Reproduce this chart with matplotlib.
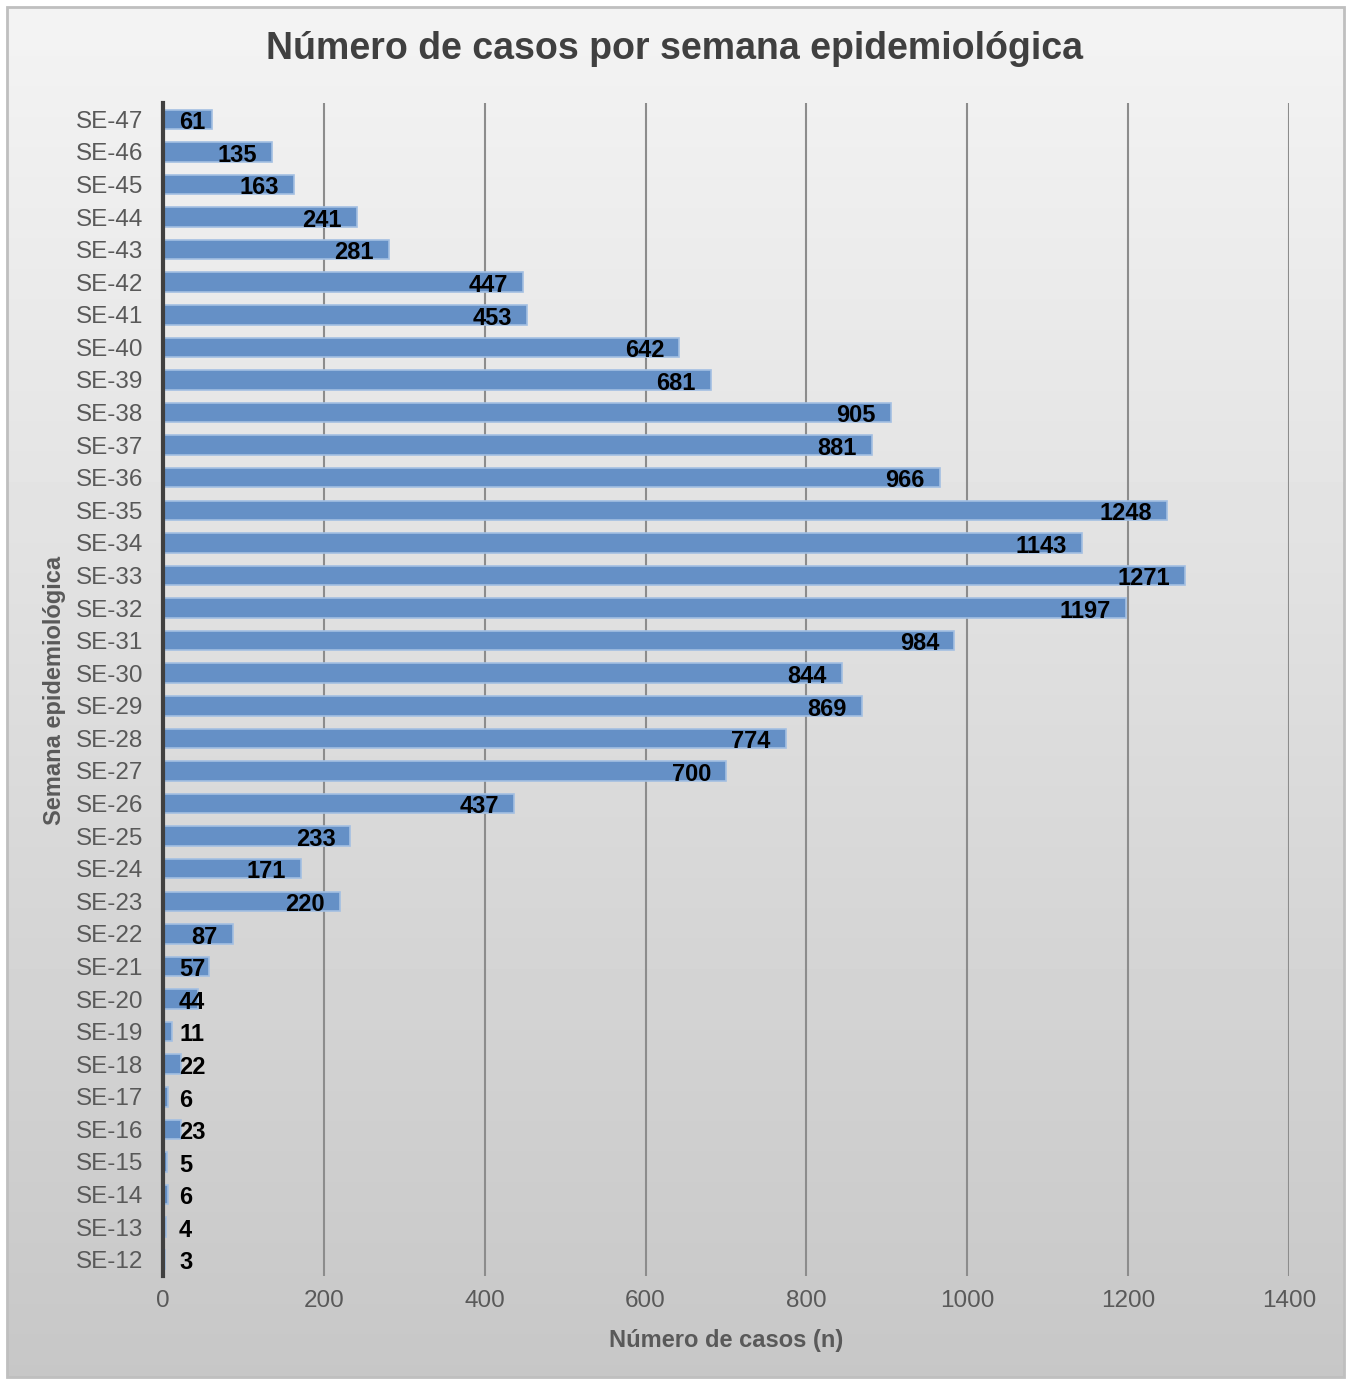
import matplotlib.pyplot as plt
import numpy as np
from matplotlib.patches import Rectangle

plt.rcParams['font.family'] = ['Liberation Sans', 'DejaVu Sans']

# Casos por semana epidemiológica (SE-12 ... SE-47)
semanas = ['SE-%d' % s for s in range(12, 48)]
casos = [3, 4, 6, 5, 23, 6, 22, 11, 44, 57, 87, 220, 171, 233, 437, 700,
         774, 869, 844, 984, 1197, 1271, 1143, 1248, 966, 881, 905, 681,
         642, 453, 447, 281, 241, 163, 135, 61]
ticks_x = [0, 200, 400, 600, 800, 1000, 1200, 1400]

W, H = 1349, 1381
fig = plt.figure(figsize=(W / 100, H / 100), dpi=100)

# Fondo con degradado vertical y marco
bg = fig.add_axes([0, 0, 1, 1], zorder=-10)
bg.set_xlim(0, W)
bg.set_ylim(H, 0)
bg.axis('off')
grad = np.linspace(0.955, 0.78, 256).reshape(-1, 1)
bg.imshow(grad, cmap='gray', vmin=0, vmax=1, aspect='auto',
          extent=(8, W - 5, H - 4, 8), interpolation='bicubic')
bg.add_patch(Rectangle((7, 7), W - 12, H - 11, fill=False,
                       edgecolor='#bfbfbf', linewidth=2))

ax = fig.add_axes([163 / W, 1 - 1276 / H, (1289 - 163) / W, (1276 - 103) / H])
ax.set_facecolor('none')

y = np.arange(len(semanas))
ax.barh(y, casos, height=0.6, color='#6590c6', edgecolor='#a3bfe2',
        linewidth=1.2, zorder=3)

# Etiquetas de valor dentro del extremo de la barra
px_unit = (1289 - 163) / 1400
pad = 15 / px_unit
for yi, v in zip(y, casos):
    txt = str(v)
    w = len(txt) * 13 / px_unit
    if v - pad - w < 20:
        ax.text(20, yi - 0.1, txt, ha='left', va='center', fontsize=17,
                fontweight='bold', color='black', zorder=4)
    else:
        ax.text(v - pad, yi - 0.1, txt, ha='right', va='center', fontsize=17,
                fontweight='bold', color='black', zorder=4)

ax.set_xlim(0, 1400)
ax.set_ylim(-0.5, len(semanas) - 0.5)
ax.set_xticks(ticks_x)
ax.set_yticks(y)
ax.set_yticklabels(semanas)
ax.tick_params(axis='both', length=0, labelsize=17.5, labelcolor='#595959')
ax.tick_params(axis='x', pad=10)
ax.tick_params(axis='y', pad=14)
ax.grid(axis='x', color='#8c8c8c', linewidth=1.5, zorder=1)
ax.grid(axis='y', visible=False)
for s in ['top', 'right', 'bottom']:
    ax.spines[s].set_visible(False)
ax.spines['left'].set_color('#404040')
ax.spines['left'].set_linewidth(3)
ax.spines['left'].set_zorder(5)

fig.text(0.5, 1 - 49 / H, 'Número de casos por semana epidemiológica',
         ha='center', va='center', fontsize=27, fontweight='bold', color='#404040')
fig.text(726 / W, 1 - 1340 / H, 'Número de casos (n)', ha='center', va='center',
         fontsize=17, fontweight='bold', color='#595959')
fig.text(55 / W, 1 - 690 / H, 'Semana epidemiológica', ha='center', va='center',
         rotation=90, fontsize=17, fontweight='bold', color='#595959')

fig.savefig('out.png', dpi=100)
